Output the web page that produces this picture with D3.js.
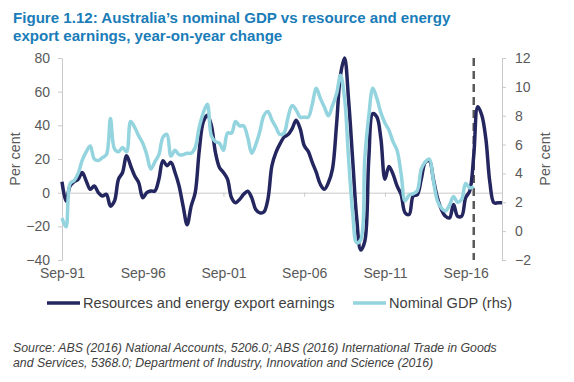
<!DOCTYPE html>
<html>
<head>
<meta charset="utf-8">
<script src="https://cdn.jsdelivr.net/npm/d3@7"></script>
<style>
  body { margin: 0; background: #fff; }
  svg { display: block; font-family: "Liberation Sans", Arial, sans-serif; }
  .axis path, .axis line { stroke: #c9c9c9; }
  .axis text { fill: #595959; font-size: 14px; }
</style>
</head>
<body>
<svg width="574" height="382"></svg>
<script>
// quarterly, starting Sep-91
var xTickLabels = ["Sep-91", "Sep-96", "Sep-01", "Sep-06", "Sep-11", "Sep-16"];
var leftTicks = [-40, -20, 0, 20, 40, 60, 80];
var rightTicks = [-2, 0, 2, 4, 6, 8, 10, 12];
var forecastStart = 102; // quarter index of the dashed line

// Resources and energy export earnings, y/y %, left axis
var resources = [
	6.5, -5, 4, 6.5, 8, 12, 7, 2, 4, 0,
	-2, -1, -8, -5, 8, 12, 22, 16, 10, 6,
	-3, 0, 1, 1, 8, 19, 16, 18, 12, 4,
	-8, -19, -8, 0, 25, 42, 46, 40, 24, 15,
	12, 8, -3, -6, -4, -1, 0.8, -3, -10, -12,
	-11.5, -4, 16, 24, 29, 33, 34.5, 38, 43, 38,
	28, 24.5, 18, 12, 5, 2, 6, 14, 40, 70,
	80, 55, 20, -15, -34, -29, 20, 47, 45, 32,
	8, 15.6, 11, 4, -1, -12, -13, -2, -1.2, 8,
	18, 19, 8, -3, -10, -14, -15, -7, -14, -14,
	-3, 1, 22, 51, 46, 32, 6, -6, -6, -6
];

// Nominal GDP, y/y %, right axis
var nominalGdp = [
	0.9, 0.3, 3.3, 3.5, 4, 4.9, 5.5, 5.9, 5, 4.9,
	5.1, 5.3, 7.8, 5.7, 5.5, 5.8, 5.5, 7.6, 7.2, 6.6,
	6.1, 5.3, 4.3, 4.8, 5.3, 6.5, 6.7, 5.2, 5.6, 5.3,
	5.3, 5.4, 5.4, 5.8, 7.2, 8.2, 8.8, 6.6, 6.2, 6.1,
	5.6, 6.8, 6.8, 7.6, 7.3, 7.3, 6.5, 5.4, 6, 6.9,
	8, 8.3, 7.7, 7.2, 6.7, 6.8, 7.9, 8.7, 8.4, 7.9,
	7.9, 7.9, 8.8, 9.9, 9.2, 8.6, 8, 8.7, 9.5, 10.8,
	9.2, 5, 1.3, -0.8, -0.6, 5, 8, 9.9, 9.2, 8.2,
	7.5, 7, 6.2, 5.6, 4, 2.1, 2.5, 2.6, 2.8, 4.3,
	4.8, 5, 3.5, 2.1, 1.6, 1.4, 1.8, 2.4, 2, 2.2,
	3.3, 3, 3.1
];

function draw() {
	var svg = d3.select("svg");
	var margin = {left: 62, right: 502, top: 58, bottom: 260};

	var x = d3.scaleLinear().domain([0, resources.length - 1]).range([margin.left, margin.right]);
	var yL = d3.scaleLinear().domain([-40, 80]).range([margin.bottom, margin.top]);
	var yR = d3.scaleLinear().domain([-2, 12]).range([margin.bottom, margin.top]);

	// title
	var title = svg.append("text")
		.attr("x", 13).attr("y", 23)
		.style("font-size", "15.1px").style("font-weight", "bold")
		.style("fill", "#1a7cb8");
	title.append("tspan").attr("x", 13).text("Figure 1.12: Australia\u2019s nominal GDP vs resource and energy");
	title.append("tspan").attr("x", 13).attr("dy", 18).text("export earnings, year-on-year change");

	// left axis
	svg.append("g")
		.attr("class", "axis")
		.attr("transform", "translate(" + margin.left + ",0)")
		.call(d3.axisLeft(yL).tickValues(leftTicks).tickSize(4).tickSizeOuter(0).tickPadding(8));

	// right axis
	svg.append("g")
		.attr("class", "axis")
		.attr("transform", "translate(" + margin.right + ",0)")
		.call(d3.axisRight(yR).tickValues(rightTicks).tickSize(4).tickSizeOuter(0).tickPadding(9));

	// zero line with ticks
	svg.append("g")
		.attr("class", "axis")
		.attr("transform", "translate(0," + yL(0) + ")")
		.call(d3.axisBottom(x).tickValues(d3.range(0, resources.length, 20)).tickSize(4).tickSizeOuter(0).tickFormat(""));

	// category labels at the bottom
	var xl = svg.append("g")
		.attr("class", "axis")
		.attr("transform", "translate(0," + (margin.bottom + 8) + ")")
		.call(d3.axisBottom(x).tickValues(d3.range(0, resources.length, 20)).tickSize(0).tickPadding(0)
			.tickFormat(function(d, i) { return xTickLabels[i]; }));
	xl.select(".domain").remove();

	// axis titles
	svg.append("text")
		.attr("transform", "translate(20,159) rotate(-90)")
		.attr("text-anchor", "middle")
		.style("font-size", "14.3px").style("fill", "#595959")
		.text("Per cent");
	svg.append("text")
		.attr("transform", "translate(550,159) rotate(-90)")
		.attr("text-anchor", "middle")
		.style("font-size", "14.3px").style("fill", "#595959")
		.text("Per cent");

	// forecast divider
	svg.append("line")
		.attr("x1", x(forecastStart)).attr("x2", x(forecastStart))
		.attr("y1", margin.top).attr("y2", margin.bottom)
		.attr("stroke", "#595959").attr("stroke-width", 2.5)
		.attr("stroke-dasharray", "8,5");

	var lineL = d3.line()
		.x(function(d, i) { return x(i); })
		.y(function(d) { return yL(d); })
		.curve(d3.curveCatmullRom.alpha(0.5));

	var lineR = d3.line()
		.x(function(d, i) { return x(i); })
		.y(function(d) { return yR(d); })
		.curve(d3.curveCatmullRom.alpha(0.5));

	svg.append("path")
		.datum(resources)
		.attr("fill", "none").attr("stroke", "#24265f").attr("stroke-width", 3.5)
		.attr("stroke-linejoin", "round")
		.attr("d", lineL);

	svg.append("path")
		.datum(nominalGdp)
		.attr("fill", "none").attr("stroke", "#93d4df").attr("stroke-width", 3.5)
		.attr("stroke-linejoin", "round")
		.attr("d", lineR);

	// legend
	var legend = [
		{ name: "Resources and energy export earnings", color: "#24265f", x: 47 },
		{ name: "Nominal GDP (rhs)", color: "#93d4df", x: 353 }
	];
	var lg = svg.selectAll(".legend").data(legend).enter().append("g")
		.attr("class", "legend")
		.attr("transform", function(d) { return "translate(" + d.x + ",303)"; });
	lg.append("line")
		.attr("x1", 0).attr("x2", 33)
		.attr("stroke", function(d) { return d.color; }).attr("stroke-width", 3.5);
	lg.append("text")
		.attr("x", 36).attr("dy", "0.36em")
		.style("font-size", "14.6px").style("fill", "#404040")
		.text(function(d) { return d.name; });

	// source
	var src = svg.append("text")
		.attr("x", 13).attr("y", 352)
		.style("font-size", "12.3px").style("font-style", "italic")
		.style("fill", "#404040");
	src.append("tspan").attr("x", 13).text("Source: ABS (2016) National Accounts, 5206.0; ABS (2016) International Trade in Goods");
	src.append("tspan").attr("x", 13).attr("dy", 15).text("and Services, 5368.0; Department of Industry, Innovation and Science (2016)");
}

draw();
</script>
</body>
</html>
